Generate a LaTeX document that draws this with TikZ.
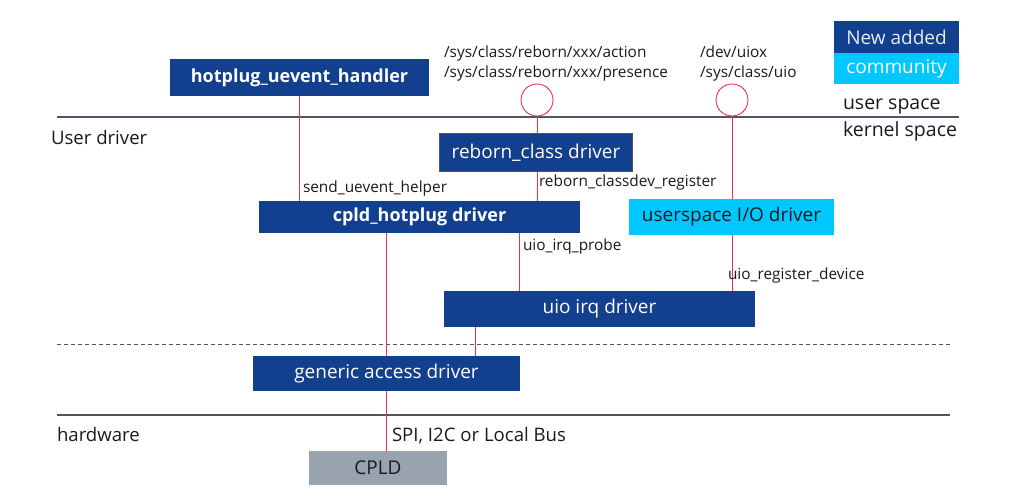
\documentclass[tikz,border=0pt]{standalone}
\usepackage{fontspec}
\setmainfont{Open Sans}
\begin{document}
\begin{tikzpicture}[x=1pt,y=-1pt,
  every node/.style={inner sep=0pt, outer sep=0pt},
  darkbox/.style={fill=nblue, text=white, font=\fontsize{19}{22}\selectfont},
  cyanbox/.style={fill=ncyan, text=ntext, font=\fontsize{19}{22}\selectfont},
  boldbox/.style={darkbox, font=\fontsize{18}{22}\selectfont\bfseries},
  redline/.style={draw=nred, line width=0.9pt},
  sepline/.style={draw=ngray, line width=1.6pt},
  lbl/.style={text=ntext, anchor=base west, font=\fontsize{15.4}{18}\selectfont},
  biglbl/.style={text=ntext, anchor=base west, font=\fontsize{19.5}{22}\selectfont},
  midlbl/.style={text=ntext, anchor=base west, font=\fontsize{18.6}{22}\selectfont},
  port/.style={circle, draw=nred, line width=0.9pt, minimum size=32, fill=white}
]
\definecolor{nblue}{HTML}{123F8E}
\definecolor{ncyan}{HTML}{00C8FF}
\definecolor{nred}{HTML}{EE3150}
\definecolor{ngray}{HTML}{4E5666}
\definecolor{ntext}{HTML}{1A1A1A}
\definecolor{cpldgray}{HTML}{98A3AF}
\useasboundingbox (0,0) rectangle (1016,500);

% separator lines
\coordinate (l1a) at (57,117); \coordinate (l1b) at (959,117);
\coordinate (l2a) at (57,344); \coordinate (l2b) at (950,344);
\coordinate (l3a) at (57,415); \coordinate (l3b) at (950,415);
\draw[sepline] (l1a) -- (l1b);
\draw[draw=ngray, line width=0.8pt, dash pattern=on 4pt off 3pt] (l2a) -- (l2b);
\draw[sepline] (l3a) -- (l3b);

% boxes
\node[boldbox, minimum width=259, minimum height=37] (hue) at (299.5,77.5) {hotplug\_uevent\_handler};
\node[darkbox, draw=ngray, line width=1.6pt, minimum width=193, minimum height=38] (rc) at (536,152.5) {reborn\_class driver};
\node[boldbox, minimum width=321, minimum height=32] (ch) at (419.5,216.5) {cpld\_hotplug driver};
\node[cyanbox, minimum width=205, minimum height=36] (ud) at (731.5,217) {userspace I/O driver};
\node[darkbox, minimum width=311, minimum height=36] (ui) at (599.5,309) {uio irq driver};
\node[darkbox, minimum width=267, minimum height=35] (ga) at (386.5,373.5) {generic access driver};
\node[fill=cpldgray, text=ntext, font=\fontsize{19}{22}\selectfont, minimum width=138, minimum height=34] (cpld) at (378,468) {CPLD};

% legend
\node[fill=nblue, text=white!90!nblue, font=\fontsize{19}{22}\selectfont, minimum width=125, minimum height=32] (leg1) at (896.5,37) {New added};
\node[fill=ncyan, text=white, font=\fontsize{19}{22}\selectfont, minimum width=125, minimum height=31, anchor=north] (leg2) at (leg1.south) {community};

% ports
\node[port] (p1) at (537,100) {};
\node[port] (p2) at (732,100) {};

% connectors
\draw[redline] (hue.south) -- (hue.south |- ch.north);
\draw[redline] (p1.south) -- (p1.south |- rc.north);
\draw[redline] (p1.south |- rc.south) -- (p1.south |- ch.north);
\draw[redline] (p2.south) -- (p2.south |- ud.north);
\draw[redline] (p2.south |- ud.south) -- (p2.south |- ui.north);
\draw[redline] ([xshift=99.5]ch.south) -- ([xshift=99.5]ch.south |- ui.north);
\draw[redline] (ga.north) -- (ga.north |- ch.south);
\draw[redline] ([xshift=-124.5]ui.south) -- ([xshift=-124.5]ui.south |- ga.north);
\draw[redline] (ga.south) -- (ga.south |- cpld.north);

% labels
\node[lbl] (t1) at (444,58) {/sys/class/reborn/xxx/action};
\node[lbl] (t2) at (444,78) {/sys/class/reborn/xxx/presence};
\node[lbl] (t3) at (700,58) {/dev/uiox};
\node[lbl] (t4) at (700,78) {/sys/class/uio};
\node[lbl] (t5) at (303,192) {send\_uevent\_helper};
\node[lbl] (t6) at (539,186) {reborn\_classdev\_register};
\node[lbl] (t7) at (523,250) {uio\_irq\_probe};
\node[lbl] (t8) at (728,279) {uio\_register\_device};
\node[biglbl] (t9) at (843,110) {user space};
\node[biglbl] (t10) at (843,136) {kernel space};
\node[midlbl] (t11) at (51,144) {User driver};
\node[midlbl] (t12) at (57,441) {hardware};
\node[midlbl] (t13) at (392,441) {SPI, I2C or Local Bus};
\end{tikzpicture}
\end{document}
